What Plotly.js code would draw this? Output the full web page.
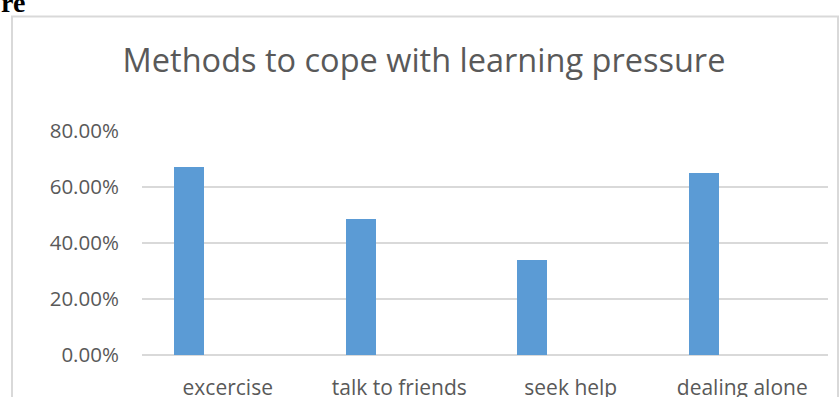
<!DOCTYPE html>
<html>
<head>
<meta charset="utf-8">
<script src="https://cdn.plot.ly/plotly-3.0.1.min.js"></script>
<style>
html,body{margin:0;padding:0;background:#fff;}
#chart{width:840px;height:397px;}
</style>
</head>
<body>
<div id="chart"></div>
<script>
var categories = ["excercise", "talk to friends", "seek help", "dealing alone"];
var shares = [0.672, 0.487, 0.340, 0.651];
var yTickValues = [0, 0.2, 0.4, 0.6, 0.8];
var yTickLabels = ["0.00%", "20.00%", "40.00%", "60.00%", "80.00%"];

var textColor = "#595959";
var fontFam = "Open Sans, Liberation Sans, sans-serif";

var trace = {
  type: "bar",
  x: categories,
  y: shares,
  offset: -0.313,
  width: 0.177,
  marker: {color: "#5B9BD5"},
  hoverinfo: "x+y"
};

var L = 142, R = 12, T = 131, B = 42;
var W = 840 - L - R, H = 397 - T - B;
function px(X){ return (X - L) / W; }
function py(Y){ return (397 - B - Y) / H; }

var layout = {
  width: 840, height: 397,
  margin: {l: L, r: R, t: T, b: B, pad: 0},
  paper_bgcolor: "#ffffff",
  plot_bgcolor: "#ffffff",
  showlegend: false,
  bargap: 0,
  title: {
    text: "Methods to cope with learning pressure",
    font: {family: fontFam, size: 32.5, color: textColor},
    x: px(424), xref: "paper", xanchor: "center",
    y: 1 - 61/397, yref: "container", yanchor: "middle"
  },
  xaxis: {
    type: "category",
    showgrid: false,
    showline: false,
    zeroline: false,
    ticks: "outside",
    ticklen: 14,
    tickcolor: "rgba(0,0,0,0)",
    tickfont: {family: fontFam, size: 21, color: textColor}
  },
  yaxis: {
    range: [0, 0.8],
    tickvals: yTickValues,
    ticktext: yTickLabels,
    showgrid: true,
    gridcolor: "#D9D9D9",
    gridwidth: 1.5,
    zeroline: true,
    zerolinecolor: "#D9D9D9",
    zerolinewidth: 1.5,
    showline: false,
    ticks: "outside",
    ticklen: 18,
    tickcolor: "rgba(0,0,0,0)",
    tickfont: {family: fontFam, size: 20.5, color: textColor}
  },
  shapes: [{
    type: "rect", xref: "paper", yref: "paper", layer: "below",
    x0: px(12), x1: px(838), y0: py(410), y1: py(16.5),
    line: {color: "#D9D9D9", width: 2},
    fillcolor: "rgba(0,0,0,0)"
  }],
  annotations: [{
    text: "<b>re</b>",
    xref: "paper", yref: "paper",
    x: px(-1), y: py(20), xanchor: "left", yanchor: "bottom",
    showarrow: false,
    font: {family: "Liberation Serif, Times New Roman, serif", size: 28, color: "#000000"}
  }]
};

Plotly.newPlot("chart", [trace], layout, {staticPlot: true, displayModeBar: false});
</script>
</body>
</html>
